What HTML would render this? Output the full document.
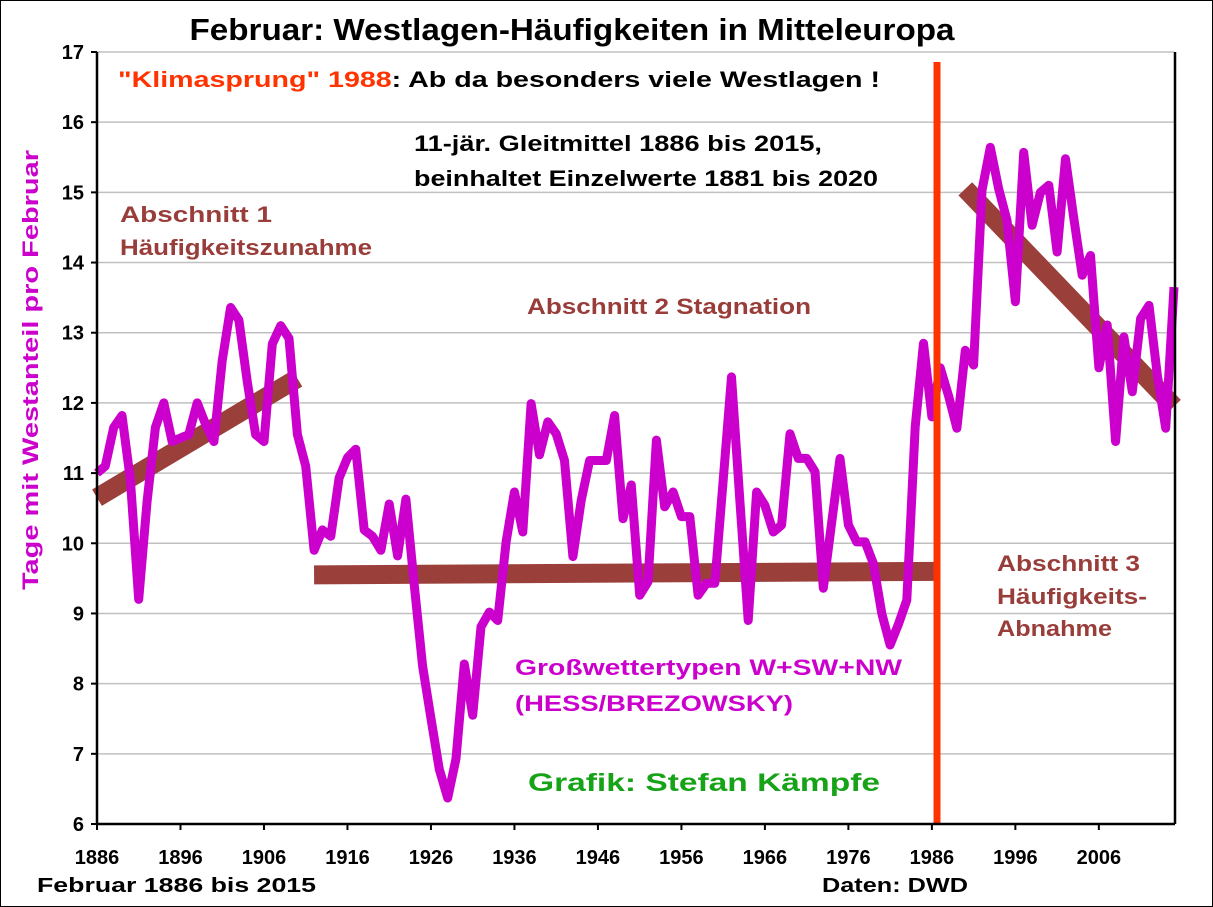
<!DOCTYPE html>
<html><head><meta charset="utf-8"><style>
html,body{margin:0;padding:0;background:#fff}
svg{display:block;font-family:"Liberation Sans",Arial,sans-serif}
</style></head><body>
<svg id="chart" width="1213" height="907" viewBox="0 0 1213 907" xmlns="http://www.w3.org/2000/svg">
<rect x="0.5" y="0.5" width="1212" height="906" fill="#fff" stroke="#000" stroke-width="1"/>
<text x="572" y="40" text-anchor="middle" font-size="31" font-weight="bold" textLength="765" lengthAdjust="spacingAndGlyphs">Februar: Westlagen-Häufigkeiten in Mitteleuropa</text>
<g id="grid"></g>
<g id="ticks"></g>
<g id="trends"></g>
<polyline id="series" fill="none" stroke="#cc00cc" stroke-width="9" stroke-linejoin="round"/>
<line x1="937" y1="62" x2="937" y2="824" stroke="#ff3300" stroke-width="7"/>
<line x1="97" y1="52" x2="97" y2="824" stroke="#000" stroke-width="2.5"/>
<line x1="96" y1="824" x2="1175" y2="824" stroke="#000" stroke-width="2.5"/>
<line x1="1175" y1="52" x2="1175" y2="824" stroke="#000" stroke-width="2.5"/>
<text transform="translate(38,370) rotate(-90)" text-anchor="middle" font-size="22" font-weight="bold" fill="#cc00cc" textLength="440" lengthAdjust="spacingAndGlyphs">Tage mit Westanteil pro Februar</text>
<g font-weight="bold" font-size="22">
<text x="118" y="87" textLength="762" lengthAdjust="spacingAndGlyphs"><tspan fill="#ff3300">"Klimasprung" 1988</tspan><tspan fill="#000">: Ab da besonders viele Westlagen !</tspan></text>
<text x="414" y="151" textLength="408" lengthAdjust="spacingAndGlyphs">11-jär. Gleitmittel 1886 bis 2015,</text>
<text x="414" y="186" textLength="464" lengthAdjust="spacingAndGlyphs">beinhaltet Einzelwerte 1881 bis 2020</text>
<text x="120" y="222" fill="#993d3a" textLength="152" lengthAdjust="spacingAndGlyphs">Abschnitt 1</text>
<text x="120" y="255" fill="#993d3a" textLength="252" lengthAdjust="spacingAndGlyphs">Häufigkeitszunahme</text>
<text x="527" y="314" fill="#993d3a" textLength="284" lengthAdjust="spacingAndGlyphs">Abschnitt 2 Stagnation</text>
<text x="997" y="571" fill="#993d3a" textLength="143" lengthAdjust="spacingAndGlyphs">Abschnitt 3</text>
<text x="997" y="604" fill="#993d3a" textLength="150" lengthAdjust="spacingAndGlyphs">Häufigkeits-</text>
<text x="997" y="636" fill="#993d3a" textLength="115" lengthAdjust="spacingAndGlyphs">Abnahme</text>
<text x="515" y="675" fill="#cc00cc" textLength="387" lengthAdjust="spacingAndGlyphs">Großwettertypen W+SW+NW</text>
<text x="515" y="711" fill="#cc00cc" textLength="278" lengthAdjust="spacingAndGlyphs">(HESS/BREZOWSKY)</text>
<text x="528" y="791" font-size="25" fill="#17a317" textLength="352" lengthAdjust="spacingAndGlyphs">Grafik: Stefan Kämpfe</text>
<text x="37" y="892" font-size="20" textLength="279" lengthAdjust="spacingAndGlyphs">Februar 1886 bis 2015</text>
<text x="822" y="892" font-size="20" textLength="146" lengthAdjust="spacingAndGlyphs">Daten: DWD</text>
</g>
</svg>
<script>
const years = [];
for (let y = 1886; y <= 2015; y++) years.push(y);
const values = [11.0,11.1,11.65,11.82,10.9,9.2,10.6,11.65,12.0,11.45,11.5,11.55,12.0,11.7,11.45,12.6,13.36,13.18,12.3,11.55,11.45,12.84,13.1,12.92,11.55,11.1,9.9,10.19,10.1,10.93,11.22,11.34,10.19,10.1,9.9,10.56,9.82,10.63,9.4,8.25,7.5,6.78,6.37,6.93,8.28,7.55,8.81,9.02,8.9,10.02,10.73,10.16,11.99,11.26,11.73,11.56,11.18,9.81,10.61,11.18,11.18,11.18,11.82,10.35,10.83,9.26,9.45,11.47,10.52,10.73,10.38,10.38,9.26,9.43,9.43,10.9,12.37,10.6,8.9,10.73,10.54,10.16,10.26,11.56,11.21,11.21,11.02,9.36,10.3,11.21,10.26,10.02,10.02,9.71,9.0,8.55,8.85,9.19,11.66,12.85,11.8,12.5,12.1,11.64,12.75,12.54,15.03,15.64,15.05,14.6,13.44,15.57,14.53,15.0,15.1,14.15,15.48,14.63,13.82,14.1,12.5,13.11,11.45,12.94,12.16,13.2,13.39,12.4,11.64,13.65];
const yTicks = [6,7,8,9,10,11,12,13,14,15,16,17];
const xTicks = [1886,1896,1906,1916,1926,1936,1946,1956,1966,1976,1986,1996,2006];
const trendStartYears = [1886, 1912, 1990];
const trendEndYears = [1910, 1987, 2015];
const trendStartValues = [10.65, 9.55, 15.05];
const trendEndValues = [12.35, 9.6, 11.95];

const NS = 'http://www.w3.org/2000/svg';
const X0 = 97, X1 = 1174, Y0 = 824, Y1 = 52;
function xs(yr){ return X0 + (yr - 1886) / (2015 - 1886) * (X1 - X0); }
function ys(v){ return Y0 - (v - 6) / (17 - 6) * (Y0 - Y1); }

const grid = document.getElementById('grid');
const ticks = document.getElementById('ticks');
yTicks.forEach(v => {
  if (v > 6) {
    const l = document.createElementNS(NS,'line');
    l.setAttribute('x1', X0); l.setAttribute('x2', X1);
    l.setAttribute('y1', ys(v)); l.setAttribute('y2', ys(v));
    l.setAttribute('stroke', '#c0c0c0'); l.setAttribute('stroke-width', '1.5');
    
    
    grid.appendChild(l);
  }
  const tk = document.createElementNS(NS,'line');
  tk.setAttribute('x1', X0 - 6); tk.setAttribute('x2', X0);
  tk.setAttribute('y1', ys(v)); tk.setAttribute('y2', ys(v));
  tk.setAttribute('stroke', '#000'); tk.setAttribute('stroke-width', '2');
  
  
  ticks.appendChild(tk);
  const t = document.createElementNS(NS,'text');
  t.setAttribute('x', 84); t.setAttribute('y', ys(v) + 7);
  t.setAttribute('text-anchor', 'end'); t.setAttribute('font-size', '20'); t.setAttribute('font-weight', 'bold');
  t.textContent = v;
  
  
  ticks.appendChild(t);
});
xTicks.forEach(yr => {
  const tk = document.createElementNS(NS,'line');
  tk.setAttribute('x1', xs(yr)); tk.setAttribute('x2', xs(yr));
  tk.setAttribute('y1', Y0); tk.setAttribute('y2', Y0 + 6);
  tk.setAttribute('stroke', '#000'); tk.setAttribute('stroke-width', '2');
  
  
  ticks.appendChild(tk);
  const t = document.createElementNS(NS,'text');
  t.setAttribute('x', xs(yr)); t.setAttribute('y', 864);
  t.setAttribute('text-anchor', 'middle'); t.setAttribute('font-size', '20'); t.setAttribute('font-weight', 'bold');
  t.textContent = yr;
  
  
  ticks.appendChild(t);
});
const trends = document.getElementById('trends');
trendStartYears.forEach((s, i) => {
  const l = document.createElementNS(NS,'line');
  l.setAttribute('x1', xs(s)); l.setAttribute('y1', ys(trendStartValues[i]));
  l.setAttribute('x2', xs(trendEndYears[i])); l.setAttribute('y2', ys(trendEndValues[i]));
  l.setAttribute('stroke', '#9b3f3b'); l.setAttribute('stroke-width', '19');
  
  
  trends.appendChild(l);
});
document.getElementById('series').setAttribute('points', years.map((yr, i) => xs(yr).toFixed(1) + ',' + ys(values[i]).toFixed(1)).join(' '));
</script>
</body></html>
